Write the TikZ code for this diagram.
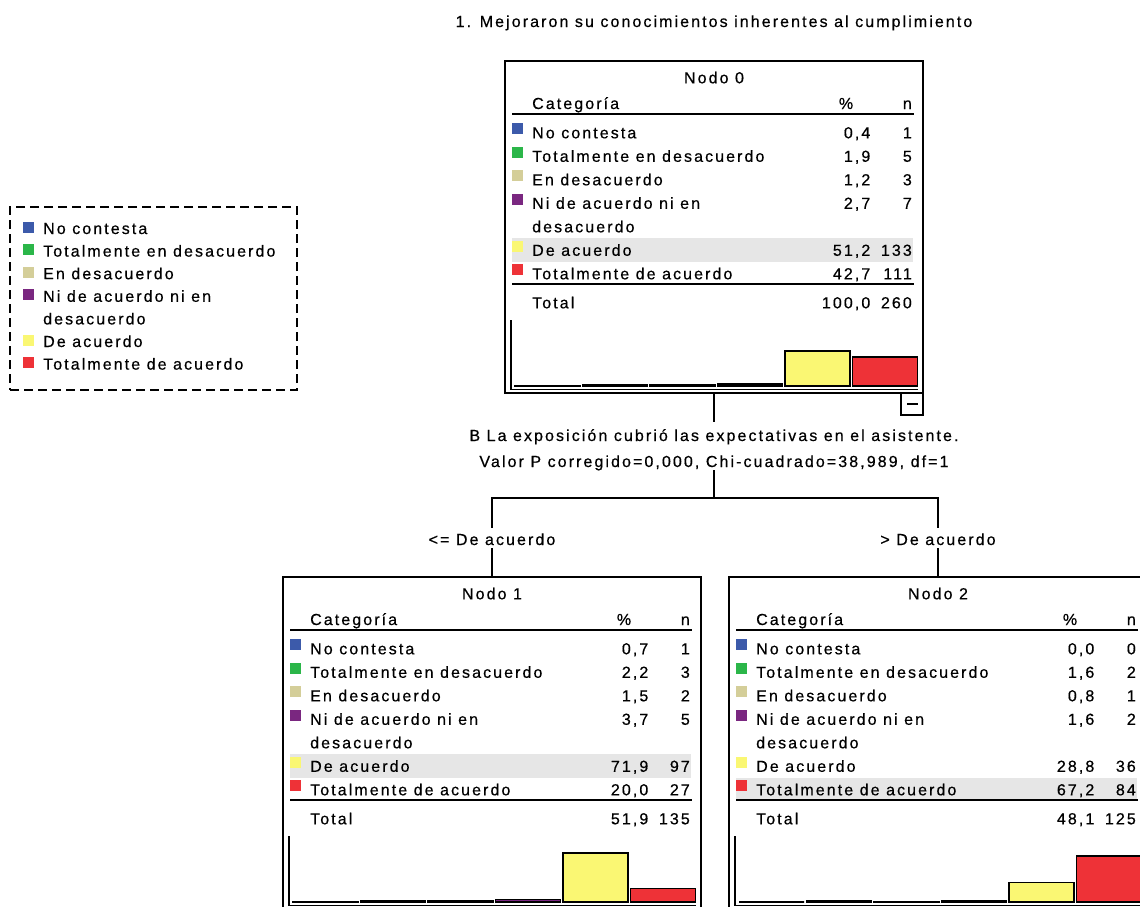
\documentclass[tikz,border=0pt]{standalone}
\usepackage{fontspec}
\usepackage{tikz}
\newfontfamily\spssfont[LetterSpace=13,FakeBold=0.5]{Liberation Sans}

\definecolor{cNoContesta}{RGB}{60,90,170}
\definecolor{cTotDes}{RGB}{43,182,73}
\definecolor{cDes}{RGB}{212,206,153}
\definecolor{cNiNi}{RGB}{122,39,128}
\definecolor{cDeAc}{RGB}{250,247,115}
\definecolor{cTotAc}{RGB}{238,50,55}
\definecolor{fondo}{RGB}{230,230,230}

% tabla de un nodo: #1 titulo, #2 fila resaltada, #3 datos, #4/#5 total, #6 prefijo
\newcommand{\tablanodo}[6]{%
  \fill[fondo] (7,{\PrimeraFila+#2*\PasoFila-17.5}) rectangle (408,{\PrimeraFila+#2*\PasoFila+6});
  \node[texto, anchor=base] (#6-titulo) at (209,22.3) {#1};
  \node[texto, anchor=base west] (#6-cat) at (27,48) {Categoría};
  \node[texto, anchor=base] (#6-pct) at (341,48) {\%};
  \node[texto, anchor=base east] (#6-n) at (407,48) {n};
  \draw[regla] (7,53) -- (409,53);
  \draw[regla] (7,223) -- (409,223);
  \foreach \fila/\etiqueta in {0/No contesta, 1/Totalmente en desacuerdo, 2/En desacuerdo,
      3/Ni de acuerdo ni en, 4/desacuerdo, 5/De acuerdo, 6/Totalmente de acuerdo}
    \node[texto, anchor=base west] (#6-et\fila) at (27,{\PrimeraFila+\fila*\PasoFila}) {\etiqueta};
  \foreach \fila/\columna/\tono/\pct/\num/\alto in {#3} {
    \fill[\tono] (7,{\PrimeraFila+\fila*\PasoFila-15.3}) rectangle ++(11,11);
    \node[texto, anchor=base east] (#6-p\fila) at (365.5,{\PrimeraFila+\fila*\PasoFila}) {\pct};
    \node[texto, anchor=base east] (#6-n\fila) at (407,{\PrimeraFila+\fila*\PasoFila}) {\num};
    \draw[barra, fill=\tono] ({10+67.5*\columna},325) rectangle ++(65,{-\alto*\EscalaBarra});
  }
  \node[texto, anchor=base west] (#6-total) at (27,247.3) {Total};
  \node[texto, anchor=base east] (#6-ptotal) at (365.5,247.3) {#4};
  \node[texto, anchor=base east] (#6-ntotal) at (407,247.3) {#5};
  \draw[regla] (6,259) -- (6,328.5) -- (413,328.5);
}

\begin{document}
\begin{tikzpicture}[x=1pt, y=-1pt,
    texto/.style={font=\spssfont\fontsize{16}{19}\selectfont, inner sep=0},
    cajanodo/.style={draw, line width=1.3pt, anchor=north west, minimum width=418pt,
      minimum height=332pt, inner sep=0, outer sep=0},
    leyendabox/.style={draw, line width=1.2pt, dash pattern=on 9pt off 5pt, anchor=north west,
      minimum width=287pt, minimum height=183pt, inner sep=0, outer sep=0},
    boton/.style={draw, line width=1.2pt, anchor=north east, minimum size=22pt, inner sep=0, outer sep=0},
    regla/.style={line width=1.4pt},
    barra/.style={draw=black, line width=1.7pt},
    conector/.style={line width=1.1pt},
    rama/.style={texto, anchor=base, text height=17pt, text depth=3pt}]
  \pgfmathsetmacro{\PrimeraFila}{77.3}
  \pgfmathsetmacro{\PasoFila}{23.5}
  \pgfmathsetmacro{\EscalaBarra}{0.68}
  \pgfmathsetmacro{\PasoLeyenda}{22.6}
  \useasboundingbox (0,0) rectangle (1140,906);

  \node[texto, anchor=base] (titulo) at (714,27) {1. Mejoraron su conocimientos inherentes al cumplimiento};

  % leyenda
  \node[leyendabox] (leyenda) at (10,207) {};
  \begin{scope}[shift={(leyenda.north west)}]
    \foreach \fila/\tono/\etiqueta in {0/cNoContesta/No contesta, 1/cTotDes/Totalmente en desacuerdo,
        2/cDes/En desacuerdo, 3/cNiNi/Ni de acuerdo ni en, 4/white/desacuerdo,
        5/cDeAc/De acuerdo, 6/cTotAc/Totalmente de acuerdo} {
      \fill[\tono] (13,{27+\fila*\PasoLeyenda-12.5}) rectangle ++(11,11);
      \node[texto, anchor=base west] (ley\fila) at (33,{27+\fila*\PasoLeyenda}) {\etiqueta};
    }
  \end{scope}

  % nodo 0
  \node[cajanodo] (nodo0) at (505,61) {};
  \begin{scope}[shift={(nodo0.north west)}]
    \tablanodo{Nodo 0}{5}{0/0/cNoContesta/{0,4}/1/0.4, 1/1/cTotDes/{1,9}/5/1.9, 2/2/cDes/{1,2}/3/1.2,
      3/3/cNiNi/{2,7}/7/2.7, 5/4/cDeAc/{51,2}/133/51.2, 6/5/cTotAc/{42,7}/111/42.7}{100,0}{260}{n0}
  \end{scope}
  \node[boton] (colapso) at (nodo0.south east) {};
  \draw[line width=1.3pt] ([xshift=6pt]colapso.west) -- ([xshift=-5pt]colapso.east);

  % division
  \node[texto, anchor=base, text height=19pt, text depth=0pt] (division) at (714,441)
    {B La exposición cubrió las expectativas en el asistente.};
  \node[texto, anchor=base, text height=10pt, text depth=3pt] (valor) at (714,467)
    {Valor P corregido=0,000, Chi-cuadrado=38,989, df=1};
  \coordinate (bifurca) at (714,498);
  \node[rama] (rama1) at (492,545) {<= De acuerdo};
  \node[rama] (rama2) at (938,545) {> De acuerdo};

  % nodos hijos
  \node[cajanodo] (nodo1) at (283,577) {};
  \begin{scope}[shift={(nodo1.north west)}]
    \tablanodo{Nodo 1}{5}{0/0/cNoContesta/{0,7}/1/0.7, 1/1/cTotDes/{2,2}/3/2.2, 2/2/cDes/{1,5}/2/1.5,
      3/3/cNiNi/{3,7}/5/3.7, 5/4/cDeAc/{71,9}/97/71.9, 6/5/cTotAc/{20,0}/27/20.0}{51,9}{135}{n1}
  \end{scope}
  \node[cajanodo] (nodo2) at (729,577) {};
  \begin{scope}[shift={(nodo2.north west)}]
    \tablanodo{Nodo 2}{6}{0/0/cNoContesta/{0,0}/0/0.0, 1/1/cTotDes/{1,6}/2/1.6, 2/2/cDes/{0,8}/1/0.8,
      3/3/cNiNi/{1,6}/2/1.6, 5/4/cDeAc/{28,8}/36/28.8, 6/5/cTotAc/{67,2}/84/67.2}{48,1}{125}{n2}
  \end{scope}

  % conectores
  \draw[conector] (nodo0.south) -- (division.north);
  \draw[conector] (valor.south) -- (bifurca);
  \draw[conector] (rama1.north) |- (bifurca) -| (rama2.north);
  \draw[conector] (rama1.south) -- (nodo1.north);
  \draw[conector] (rama2.south) -- (nodo2.north);
\end{tikzpicture}
\end{document}
